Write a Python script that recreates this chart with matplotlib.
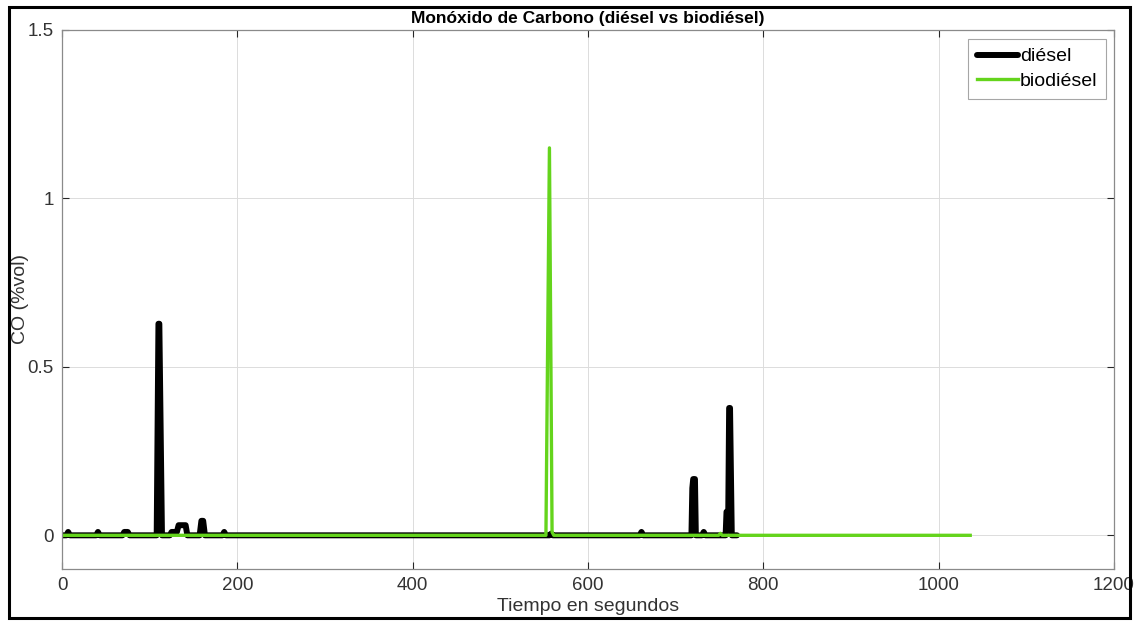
import numpy as np
import matplotlib
matplotlib.use('Agg')
import matplotlib.pyplot as plt
from matplotlib.patches import Rectangle

plt.rcParams['font.family'] = ['Liberation Sans', 'DejaVu Sans']

# CO breakpoints (time in s, %vol) for each fuel
t_diesel = [0, 5, 7, 9, 39, 41, 43, 69, 71, 75, 77, 108, 110, 111, 114,
            123, 125, 131, 133, 141, 143, 157, 159, 161, 163, 183, 185, 187,
            556, 558, 560, 659, 661, 663, 718, 719, 720, 722, 723,
            730, 732, 734, 757, 758, 760, 761, 762, 764, 770]
co_diesel = [0, 0, 0.01, 0, 0, 0.01, 0, 0, 0.01, 0.01, 0, 0, 0.628, 0.628, 0,
             0, 0.01, 0.01, 0.03, 0.03, 0, 0, 0.043, 0.043, 0, 0, 0.01, 0,
             0, 0.005, 0, 0, 0.01, 0, 0, 0.14, 0.167, 0.167, 0,
             0, 0.01, 0, 0, 0.07, 0.07, 0.378, 0.378, 0, 0]

t_bio = [0, 552, 556, 559, 561, 749, 751, 753, 1036]
co_bio = [0, 0, 1.15, 0.01, 0, 0, 0.006, 0, 0]

xticks = [0, 200, 400, 600, 800, 1000, 1200]
yticks = [0, 0.5, 1, 1.5]
ytick_labels = ['0', '0.5', '1', '1.5']

fig = plt.figure(figsize=(11.38, 6.22), dpi=100)
ax = fig.add_axes([0.0545, 0.0852, 0.9244, 0.8666])

ax.plot(t_diesel, co_diesel, color='black', lw=4.3, label='diésel',
        solid_capstyle='round', solid_joinstyle='round')
ax.plot(t_bio, co_bio, color='#64d41c', lw=2.4, label='biodiésel')

ax.set_xlim(0, 1200)
ax.set_ylim(-0.1, 1.5)
ax.set_xticks(xticks)
ax.set_yticks(yticks)
ax.set_yticklabels(ytick_labels)
ax.grid(True, color='#dcdcdc', lw=0.7)
ax.set_axisbelow(True)
ax.tick_params(direction='in', top=True, right=True, length=5,
               color='#262626', labelcolor='#333333', labelsize=13.5, pad=6)
for s in ax.spines.values():
    s.set_color('#8a8a8a')
    s.set_linewidth(0.9)

ax.set_title('Monóxido de Carbono (diésel vs biodiésel)', fontsize=12.5,
             fontweight='bold', pad=5)
ax.set_xlabel('Tiempo en segundos', fontsize=14, color='#333333')
ax.set_ylabel('CO (%vol)', fontsize=14, color='#333333')
ax.xaxis.set_label_coords(0.5, -0.053)
ax.yaxis.set_label_coords(-0.031, 0.5)

leg = ax.legend(loc='upper right', bbox_to_anchor=(0.9924, 0.9833), fontsize=14,
                handlelength=2.1, handletextpad=0.1, labelspacing=0.35,
                borderpad=0.45, borderaxespad=0, fancybox=False, framealpha=1)
leg.get_frame().set_edgecolor('#a6a6a6')
leg.get_frame().set_linewidth(0.8)

# black frame around the whole figure
fig.patches.append(Rectangle((0.0075, 0.006), 0.9855, 0.983, transform=fig.transFigure,
                             fill=False, edgecolor='black', lw=2.2))

fig.savefig('out.png', dpi=100)
